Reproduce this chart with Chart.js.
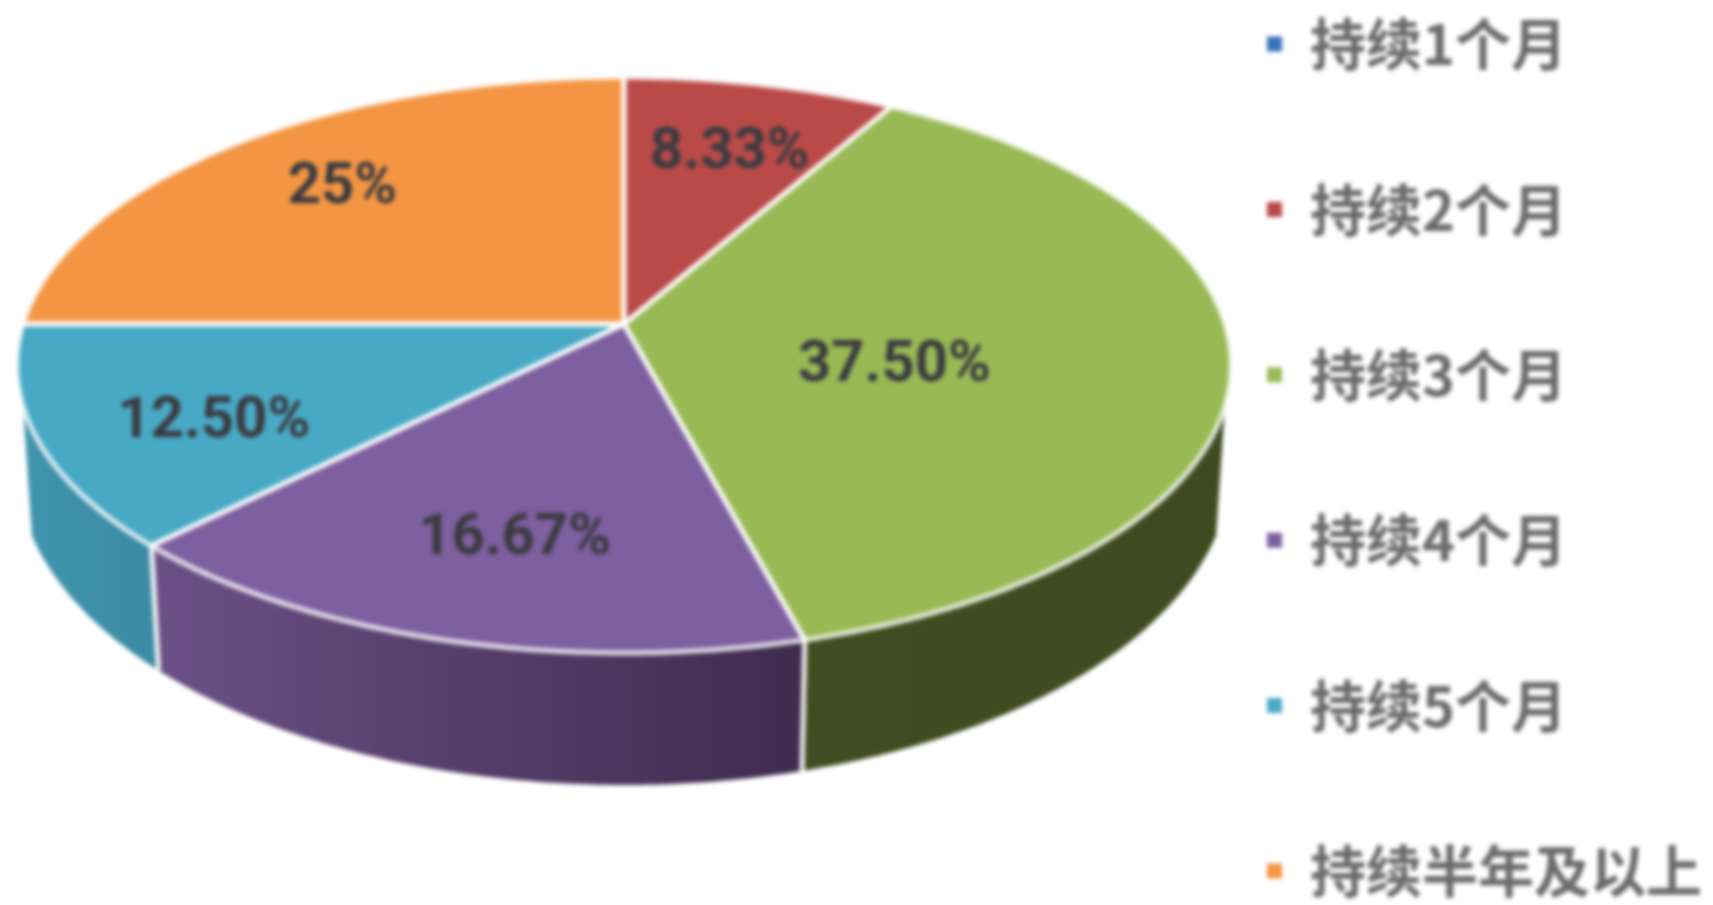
<!DOCTYPE html>
<html>
<head>
<meta charset="utf-8">
<title>持续时间</title>
<script src="https://cdn.jsdelivr.net/npm/chart.js@4"></script>
<style>
  html, body { margin: 0; padding: 0; background: #fff; }
  #wrap { width: 1713px; height: 905px; overflow: hidden; }
  #chart { filter: blur(2px); }
</style>
</head>
<body>
<div id="wrap"><canvas id="chart"></canvas></div>
<script>
const categories = ["持续1个月", "持续2个月", "持续3个月", "持续4个月", "持续5个月", "持续半年及以上"];
const shares = [0, 8.33, 37.5, 16.67, 12.5, 25];
const shareLabels = ["", "8.33%", "37.50%", "16.67%", "12.50%", "25%"];
const sliceColors = ["#3a72be", "#b94a48", "#98b954", "#7e5f9f", "#48a9c5", "#f39543"];

// side wall colours, left to right across each slice
const wallColors = [
  ["#2a5590", "#2a5590"],
  ["#7d3130", "#7d3130"],
  ["#414d21", "#3f4a20"],
  ["#6c5086", "#3e2b4e"],
  ["#4094ad", "#3c8aa3"],
  ["#b06c30", "#b06c30"],
];

// the pie is drawn in perspective, so the top face is a projected circle
const top3d = { x: 624, y: 324, rx: 601, ry: 282, persp: 1 / 7 };
// lower rim of the side wall, pulled in a little towards the middle
const rim = { x: 624, y: 465, a: 607, b: 320, shrink: 0.985 };
const wallStart = 0.28;
const labelRadius = [0, 0.72, 0.45, 0.71, 0.71, 0.71];
const labelShiftX = [0, 4, 0, 13, 0, 0];
const labelShiftY = [0, 8, 26, 1, 19, -3];

function project(angle, r) {
  const u = r * Math.cos(angle);
  const v = r * Math.sin(angle);
  const w = 1 / (1 - top3d.persp * v);
  return { x: top3d.x + top3d.rx * u * w, y: top3d.y + top3d.ry * v * w };
}

function rimPoint(p) {
  const x = rim.x + (p.x - rim.x) * rim.shrink;
  const d = (x - rim.x) / rim.a;
  return { x, y: rim.y + rim.b * Math.sqrt(Math.max(0, 1 - d * d)) };
}

function arcPoints(from, to) {
  const pts = [];
  const steps = Math.max(2, Math.ceil(Math.abs(to - from) / 0.01));
  for (let i = 0; i <= steps; i++) {
    pts.push(project(from + ((to - from) * i) / steps, 1));
  }
  return pts;
}

function drawWall(ctx, arc, i) {
  // only the part of the rim that faces the viewer
  const minAngle = Math.asin(wallStart);
  const from = Math.max(arc.startAngle, minAngle);
  const to = Math.min(arc.endAngle, Math.PI - minAngle);
  if (to <= from) return;

  const pts = arcPoints(from, to);
  const xs = pts.map((p) => p.x);
  const grad = ctx.createLinearGradient(Math.min(...xs), 0, Math.max(...xs), 0);
  grad.addColorStop(0, wallColors[i][0]);
  grad.addColorStop(1, wallColors[i][1]);

  ctx.beginPath();
  pts.forEach((p, n) => (n ? ctx.lineTo(p.x, p.y) : ctx.moveTo(p.x, p.y)));
  pts.reverse().forEach((p) => {
    const b = rimPoint(p);
    ctx.lineTo(b.x, b.y);
  });
  ctx.closePath();
  ctx.fillStyle = grad;
  ctx.fill();

  // white seam where two walls meet
  ctx.strokeStyle = "rgba(255,255,255,0.85)";
  ctx.lineWidth = 5;
  [arc.startAngle, arc.endAngle].forEach((a) => {
    if (a > minAngle && a < Math.PI - minAngle) {
      const p = project(a, 1);
      const b = rimPoint(p);
      ctx.beginPath();
      ctx.moveTo(p.x, p.y);
      ctx.lineTo(b.x, b.y);
      ctx.stroke();
    }
  });
}

function traceSlice(ctx, arc) {
  ctx.beginPath();
  ctx.moveTo(top3d.x, top3d.y);
  arcPoints(arc.startAngle, arc.endAngle).forEach((p) => ctx.lineTo(p.x, p.y));
  ctx.closePath();
}

const pie3d = {
  id: "pie3d",
  beforeDatasetsDraw(chart) {
    const ctx = chart.ctx;
    const arcs = chart.getDatasetMeta(0).data;

    ctx.save();
    arcs.forEach((arc, i) => drawWall(ctx, arc, i));

    arcs.forEach((arc, i) => {
      if (arc.circumference === 0) return;
      traceSlice(ctx, arc);
      ctx.fillStyle = sliceColors[i];
      ctx.fill();
    });
    ctx.strokeStyle = "rgba(255,255,255,0.8)";
    ctx.lineWidth = 5;
    ctx.lineJoin = "round";
    arcs.forEach((arc) => {
      if (arc.circumference === 0) return;
      traceSlice(ctx, arc);
      ctx.stroke();
    });

    ctx.font = "700 58px Roboto";
    ctx.fillStyle = "#3a3a40";
    ctx.textAlign = "center";
    ctx.textBaseline = "middle";
    arcs.forEach((arc, i) => {
      if (!shareLabels[i]) return;
      const mid = (arc.startAngle + arc.endAngle) / 2;
      const p = project(mid, labelRadius[i]);
      ctx.fillText(shareLabels[i], p.x + labelShiftX[i], p.y + labelShiftY[i]);
    });
    ctx.restore();
    return false;
  },
};

new Chart(document.getElementById("chart"), {
  type: "pie",
  data: {
    labels: categories,
    datasets: [{ data: shares, backgroundColor: sliceColors, borderWidth: 0 }],
  },
  options: {
    responsive: true,
    maintainAspectRatio: false,
    animation: false,
    layout: { padding: { top: -190, bottom: -200, left: 0, right: 1 } },
    plugins: {
      tooltip: { enabled: false },
      legend: {
        position: "right",
        labels: {
          boxWidth: 15,
          boxHeight: 15,
          padding: 109.4,
          color: "#6a6a6a",
          font: { family: "'Noto Sans CJK SC'", size: 56, weight: "700" },
        },
      },
    },
  },
  plugins: [pie3d],
});
</script>
</body>
</html>
